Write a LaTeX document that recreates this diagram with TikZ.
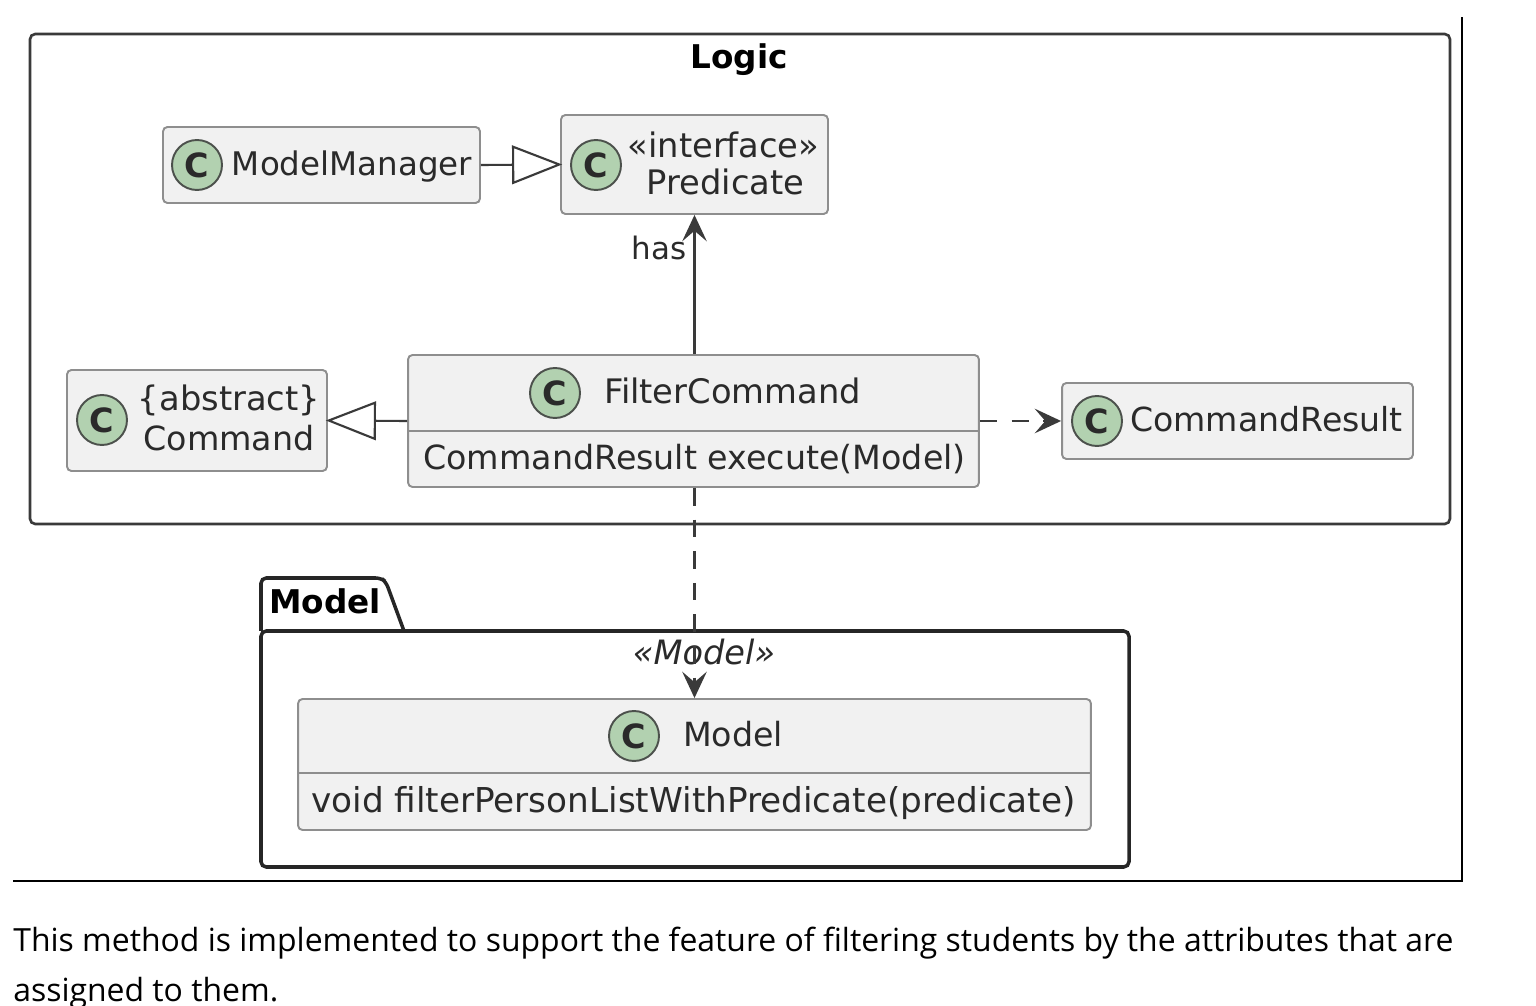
\documentclass[tikz,border=0pt]{standalone}
\usepackage{fontspec}
\setmainfont{DejaVu Sans}
\newfontfamily\notefont{Open Sans}
\usetikzlibrary{arrows.meta, calc, positioning}
\definecolor{boxfill}{HTML}{F1F1F1}
\definecolor{boxline}{HTML}{8E8E8E}
\definecolor{spotfill}{HTML}{B2D1B0}
\definecolor{inkline}{HTML}{3A3A3A}
\definecolor{inktext}{HTML}{2A2A2A}
\tikzset{
  classbox/.style={draw=boxline, fill=boxfill, line width=1.1pt, rounded corners=2.5pt, inner sep=0pt},
  spot/.style={circle, draw=inkline!85!spotfill, fill=spotfill, line width=1.1pt, minimum size=1cm, inner sep=0pt, font=\bfseries\fontsize{19}{19}\selectfont, text=inktext},
  label/.style={anchor=base, inner sep=0pt, text=inktext, font=\fontsize{18.95}{21}\selectfont},
  title/.style={anchor=base, inner sep=0pt, text=black, font=\bfseries\fontsize{18.6}{20}\selectfont},
  note/.style={anchor=base west, inner sep=0pt, text=black, font=\notefont\fontsize{18.17}{20}\selectfont},
  conn/.style={draw=inkline, line width=1.2pt},
  inherit/.style={conn, shorten >=-1.2pt, -{Triangle[open, fill=white, length=28.5pt, width=22pt]}},
  uses/.style={conn, -{Stealth[length=15pt, width=14pt, inset=6pt]}},
  dep/.style={uses, dash pattern=on 10pt off 8pt},
}
\begin{document}
\begin{tikzpicture}[x=0.02cm, y=-0.02cm]
\useasboundingbox (0,0) rectangle (1536,1006);

% Page rules
\draw[black, line width=1.4pt] (13,881) -- (1462,881) -- (1462,17);

% Logic frame
\draw[inkline, line width=1.5pt, rounded corners=3pt] (30,34) rectangle (1450,524);
\node[title] (logictitle) at (739,69) {Logic};

% Model package
\draw[black!85, line width=2pt, rounded corners=3pt] (261,631) -- (261,578) -- (381,578) -- (386,582) -- (404,631);
\draw[black!85, line width=2pt, rounded corners=3pt] (261,631) -- (1129,631) -- (1129,867) -- (261,867) -- cycle;
\node[title] (modeltitle) at (325,614) {Model};
\node[label, font=\itshape\fontsize{19.1}{21}\selectfont] (modelstereo) at (704,665) {«Model»};

% Classes
\node[classbox, minimum width=6.34cm, minimum height=1.52cm] (manager) at (321.5,165) {};
\node[classbox, minimum width=5.34cm, minimum height=1.98cm] (predicate) at (694.5,164.5) {};
\node[classbox, minimum width=5.2cm, minimum height=2.02cm] (command) at (197,420.5) {};
\node[classbox, minimum width=11.42cm, minimum height=2.64cm] (filtercmd) at (693.5,421) {};
\node[classbox, minimum width=7.02cm, minimum height=1.52cm] (result) at (1237.5,421) {};
\node[classbox, minimum width=15.86cm, minimum height=2.62cm] (modelcls) at (694.5,764.5) {};

% Compartment lines
\draw[draw=boxline, line width=1.1pt] (filtercmd.west |- 0,431) -- (filtercmd.east |- 0,431);
\draw[draw=boxline, line width=1.1pt] (modelcls.west |- 0,773) -- (modelcls.east |- 0,773);

% Class spots
\foreach \name/\pos in {manager/{(197,165)}, predicate/{(596,165)}, command/{(102,420)}, filtercmd/{(555,393)}, result/{(1097,421)}, modelcls/{(634,736)}} {
    \node[spot] (spot\name) at \pos {C};
}

% Class texts
\node[label, font=\fontsize{18.5}{20}\selectfont] (managertext) at (352,176) {ModelManager};
\node[label, font=\fontsize{19.2}{21}\selectfont] (predstereo) at (723.5,158) {«interface»};
\node[label, font=\fontsize{19.2}{21}\selectfont] (predtext) at (725.5,195) {Predicate};
\node[label, font=\fontsize{19.2}{21}\selectfont] (cmdstereo) at (229,411) {\{abstract\}};
\node[label] (cmdtext) at (229,451) {Command};
\node[label, font=\fontsize{19.2}{21}\selectfont] (filtertext) at (732.5,404) {FilterCommand};
\node[label] (filtermethod) at (694.5,470) {CommandResult execute(Model)};
\node[label, font=\fontsize{18.85}{21}\selectfont] (resulttext) at (1266.5,432) {CommandResult};
\node[label] (modeltext) at (733,747) {Model};
\node[label, font=\fontsize{19.5}{21}\selectfont] (modelmethod) at (693.5,812) {void filterPersonListWithPredicate(predicate)};
\node[label, font=\fontsize{17.6}{20}\selectfont] (haslabel) at (659,260) {has};

% Connectors
\draw[inherit] (manager.east) -- (predicate.west);
\draw[inherit] (filtercmd.west) -- (command.east);
\draw[uses] (filtercmd.north -| predicate.south) -- (predicate.south);
\draw[dep] (filtercmd.east) -- (result.west);
\draw[dep] (modelcls.north |- filtercmd.south) -- (modelcls.north);

% Text below the figure
\node[note] (noteone) at (13,951) {This method is implemented to support the feature of filtering students by the attributes that are};
\node[note] (notetwo) at (13,1001) {assigned to them.};
\end{tikzpicture}
\end{document}
